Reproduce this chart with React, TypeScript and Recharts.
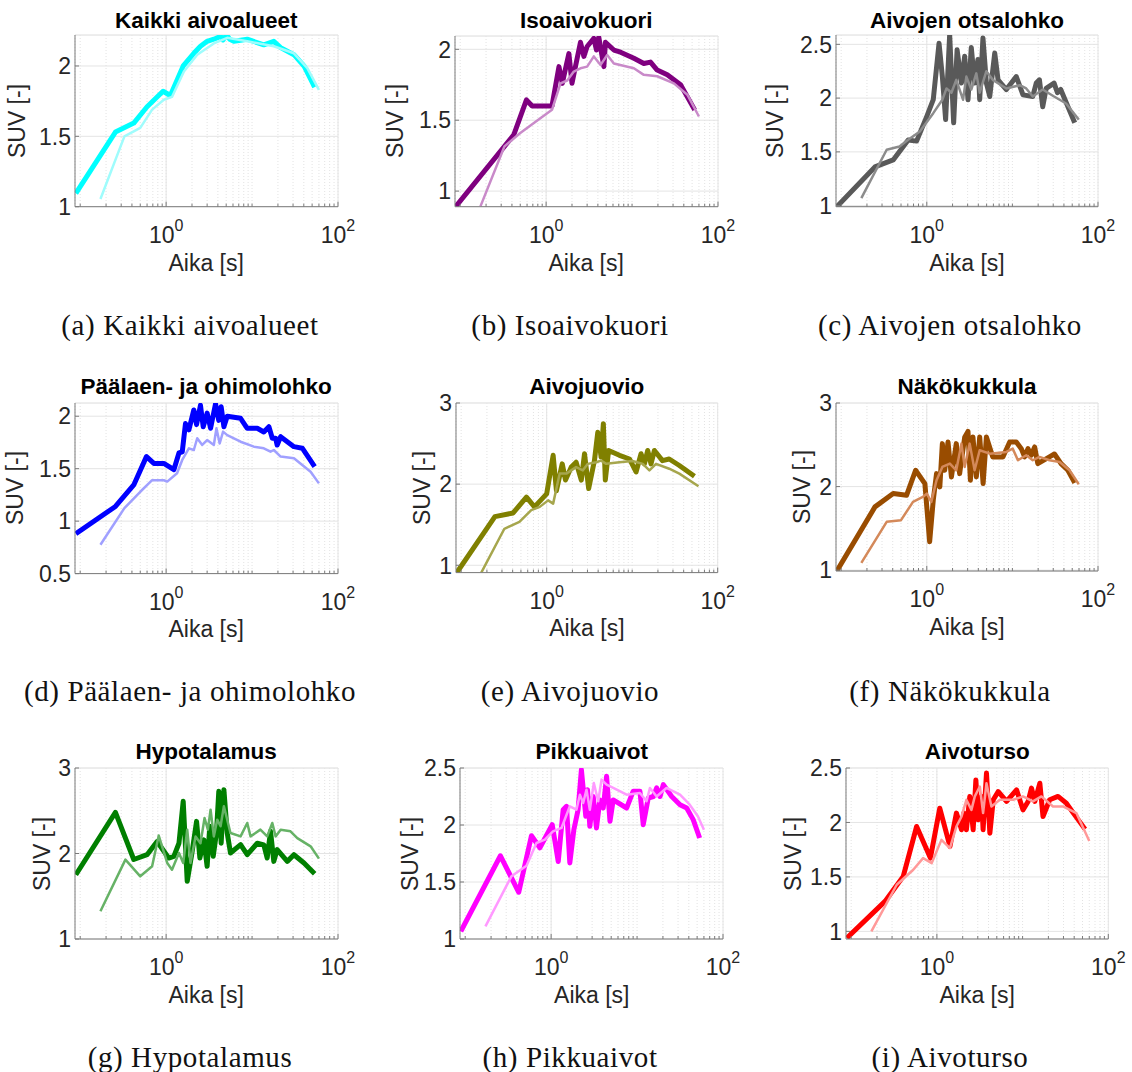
import { LineChart, Line, XAxis, YAxis, CartesianGrid, ReferenceLine } from 'recharts';

// time axis (s), log scale
const xDomain = [0.087, 100];
const xTicks = [
  0.1, 0.2, 0.3, 0.4, 0.5, 0.6, 0.7, 0.8, 0.9,
  1, 2, 3, 4, 5, 6, 7, 8, 9,
  10, 20, 30, 40, 50, 60, 70, 80, 90, 100,
];

// [time s, SUV] pairs
const kaikkiThick = [[0.089, 1.095], [0.257, 1.53], [0.42, 1.594], [0.6, 1.71], [0.92, 1.82], [1.12, 1.79], [1.58, 2.0], [2.1, 2.09], [2.51, 2.14], [3.0, 2.175], [3.59, 2.19], [4.3, 2.21], [4.6, 2.185], [5.05, 2.22], [5.5, 2.19], [6.14, 2.175], [8.79, 2.19], [13.7, 2.15], [17.9, 2.175], [21.5, 2.13], [30.7, 2.08], [40.2, 2.0], [53.5, 1.85]];
const kaikkiThin = [[0.172, 1.055], [0.327, 1.5], [0.5, 1.56], [0.687, 1.69], [0.94, 1.76], [1.17, 1.78], [1.61, 1.96], [2.3, 2.08], [3.59, 2.16], [5.14, 2.2], [8.79, 2.175], [17.9, 2.14], [30.7, 2.09], [44, 1.985], [60, 1.83]];

const isoThick = [[0.089, 0.892], [0.42, 1.397], [0.59, 1.643], [0.687, 1.6], [0.94, 1.6], [1.17, 1.6], [1.41, 1.878], [1.54, 1.76], [1.84, 1.97], [2.0, 1.76], [2.51, 2.05], [2.75, 1.95], [3.0, 2.02], [3.59, 2.077], [3.85, 1.995], [4.1, 2.085], [4.7, 1.878], [4.9, 2.05], [6.14, 1.995], [7.35, 1.98], [10.5, 1.937], [13.7, 1.9], [16.4, 1.91], [19.6, 1.854], [25.7, 1.82], [36.7, 1.75], [53.5, 1.573]];
const isoThin = [[0.172, 0.892], [0.327, 1.315], [0.5, 1.41], [0.72, 1.48], [1.17, 1.573], [1.47, 1.76], [1.76, 1.78], [2.1, 1.843], [2.51, 1.866], [3.0, 1.878], [3.59, 1.95], [4.3, 1.89], [5.14, 1.96], [6.14, 1.9], [10.5, 1.866], [13.7, 1.82], [19.6, 1.81], [30.7, 1.76], [44, 1.68], [60, 1.526]];

const otsaThick = [[0.089, 0.99], [0.248, 1.36], [0.405, 1.425], [0.606, 1.61], [0.76, 1.6], [1.0, 1.83], [1.19, 1.985], [1.39, 2.51], [1.52, 2.2], [1.66, 1.8], [1.85, 2.59], [2.06, 1.77], [2.26, 2.45], [2.54, 2.14], [2.77, 2.39], [3.03, 1.985], [3.31, 2.47], [3.62, 2.14], [3.96, 2.36], [4.15, 1.985], [4.53, 2.56], [4.97, 2.14], [5.44, 2.015], [6.22, 2.42], [6.8, 2.17], [8.5, 2.08], [11.1, 2.2], [13.3, 2.03], [17.3, 2.015], [19.0, 2.14], [20.7, 2.17], [22.6, 1.92], [24.8, 2.09], [30.7, 2.14], [33.6, 2.05], [36.7, 2.08], [48, 1.86], [53.5, 1.77]];
const otsaThin = [[0.172, 1.07], [0.34, 1.52], [0.48, 1.55], [0.6, 1.61], [0.83, 1.69], [1.19, 1.86], [1.52, 1.985], [1.7, 2.09], [1.94, 2.05], [2.21, 2.17], [2.65, 1.985], [2.9, 2.2], [3.31, 2.08], [3.79, 2.23], [4.15, 2.05], [4.97, 2.25], [5.9, 2.17], [8.5, 2.09], [12.2, 2.12], [14.5, 2.09], [17.3, 2.015], [22.6, 2.08], [30.7, 2.015], [42.4, 1.95], [59.6, 1.8]];

const paalaenThick = [[0.089, 0.88], [0.257, 1.14], [0.42, 1.345], [0.59, 1.615], [0.72, 1.55], [0.94, 1.55], [1.23, 1.49], [1.41, 1.65], [1.54, 1.66], [1.68, 1.93], [1.84, 1.87], [2.1, 2.06], [2.26, 1.92], [2.51, 2.105], [2.7, 1.9], [3.0, 2.03], [3.29, 1.885], [3.76, 2.12], [4.1, 1.96], [4.37, 2.09], [4.7, 1.9], [5.14, 2.0], [7.35, 1.98], [8.79, 1.885], [11.5, 1.885], [13.7, 1.85], [15.7, 1.9], [17.2, 1.79], [18.8, 1.79], [19.6, 1.725], [21.5, 1.805], [30.7, 1.71], [38.4, 1.695], [53.5, 1.52]];
const paalaenThin = [[0.172, 0.775], [0.327, 1.124], [0.5, 1.28], [0.687, 1.39], [0.94, 1.39], [1.03, 1.377], [1.34, 1.456], [1.54, 1.583], [1.84, 1.694], [2.1, 1.678], [2.3, 1.79], [2.63, 1.726], [3.0, 1.773], [3.59, 1.726], [3.85, 1.885], [4.2, 1.74], [4.6, 1.853], [5.14, 1.82], [7.35, 1.757], [10.5, 1.71], [13.7, 1.694], [16.4, 1.662], [17.9, 1.678], [21.5, 1.615], [30.7, 1.6], [48, 1.47], [60, 1.36]];

const juovioThick = [[0.089, 0.91], [0.248, 1.6], [0.405, 1.645], [0.58, 1.84], [0.72, 1.72], [1.0, 1.88], [1.19, 2.355], [1.3, 1.92], [1.52, 2.25], [1.66, 2.05], [1.94, 2.21], [2.21, 2.27], [2.54, 2.05], [2.77, 2.375], [3.1, 1.945], [3.62, 2.29], [3.96, 2.64], [4.33, 2.335], [4.6, 2.745], [4.85, 2.05], [5.3, 2.415], [7.1, 2.355], [9.3, 2.31], [11.1, 2.15], [12.7, 2.375], [13.9, 2.25], [15.2, 2.415], [16.6, 2.25], [18.2, 2.415], [22.6, 2.29], [27.1, 2.31], [35.6, 2.23], [53.5, 2.097]];
const juovioThin = [[0.172, 0.91], [0.32, 1.45], [0.48, 1.535], [0.66, 1.68], [0.83, 1.72], [1.04, 1.8], [1.19, 1.76], [1.42, 2.13], [1.7, 2.13], [2.21, 2.21], [2.65, 2.17], [3.03, 2.25], [3.79, 2.27], [4.33, 2.29], [4.97, 2.25], [7.1, 2.27], [10.1, 2.285], [13.3, 2.25], [15.9, 2.17], [19, 2.25], [27.1, 2.19], [35.6, 2.13], [59.6, 1.975]];

const nakoThick = [[0.089, 0.99], [0.248, 1.757], [0.405, 1.916], [0.58, 1.896], [0.74, 2.195], [0.95, 2.036], [1.08, 1.34], [1.19, 1.837], [1.3, 2.155], [1.42, 1.996], [1.52, 2.514], [1.62, 2.195], [1.77, 2.534], [1.94, 2.116], [2.21, 2.514], [2.42, 2.155], [2.77, 2.59], [3.03, 2.66], [3.23, 2.076], [3.46, 2.594], [3.79, 2.116], [4.15, 2.594], [4.55, 2.036], [4.97, 2.594], [5.9, 2.355], [7.75, 2.355], [9.3, 2.534], [11.1, 2.534], [12.7, 2.454], [13.9, 2.355], [15.2, 2.454], [16.6, 2.375], [18.2, 2.474], [19.8, 2.275], [27.1, 2.355], [31, 2.39], [37, 2.275], [44.5, 2.195], [53.5, 2.044]];
const nakoThin = [[0.172, 1.088], [0.34, 1.578], [0.5, 1.598], [0.69, 1.817], [0.9, 1.876], [1.0, 1.916], [1.13, 1.817], [1.3, 2.076], [1.52, 2.235], [1.86, 2.275], [2.21, 2.195], [2.54, 2.514], [2.77, 2.235], [3.17, 2.514], [3.62, 2.195], [4.15, 2.434], [5.44, 2.394], [8.5, 2.414], [10.1, 2.454], [11.6, 2.315], [14.5, 2.375], [17.3, 2.315], [20.7, 2.355], [27.1, 2.315], [35.6, 2.295], [46.5, 2.195], [59.6, 2.028]];

const hypoThick = [[0.089, 1.752], [0.257, 2.48], [0.42, 1.93], [0.6, 1.986], [0.785, 2.14], [1.07, 1.947], [1.23, 1.967], [1.41, 2.12], [1.58, 2.61], [1.76, 1.675], [2.0, 2.01], [2.26, 2.376], [2.47, 1.947], [2.75, 2.16], [3.0, 1.85], [3.22, 2.318], [3.53, 1.967], [3.85, 2.24], [4.1, 2.727], [4.37, 2.12], [4.7, 2.746], [5.14, 2.24], [5.61, 2.006], [7.35, 2.103], [8.79, 1.986], [11.5, 2.12], [13.7, 2.1], [15, 1.947], [16.4, 2.26], [17.9, 1.908], [19.6, 2.045], [25.7, 1.908], [30.7, 1.986], [40.2, 1.889], [53.5, 1.764]];
const hypoThin = [[0.172, 1.324], [0.336, 1.928], [0.5, 1.733], [0.687, 1.85], [0.82, 2.21], [1.03, 1.889], [1.17, 1.811], [1.41, 2.006], [1.58, 1.889], [1.76, 2.279], [1.92, 1.889], [2.2, 2.2], [2.51, 2.12], [2.8, 2.415], [3.06, 2.279], [3.29, 2.513], [3.59, 2.2], [3.93, 2.396], [4.3, 2.318], [4.7, 2.552], [5.61, 2.24], [7.35, 2.2], [8.79, 2.357], [9.6, 2.2], [12.5, 2.279], [15, 2.2], [17.2, 2.357], [18.8, 2.2], [21.5, 2.279], [28, 2.26], [33.6, 2.18], [48, 2.084], [60, 1.94]];

const pikkuThick = [[0.089, 1.067], [0.257, 1.73], [0.42, 1.41], [0.59, 1.906], [0.74, 1.8], [1.03, 2.003], [1.21, 1.68], [1.38, 2.134], [1.51, 2.164], [1.65, 1.667], [1.84, 1.96], [2.06, 2.134], [2.25, 2.485], [2.53, 2.076], [2.65, 2.31], [2.82, 1.988], [3.09, 2.25], [3.37, 1.974], [3.69, 2.22], [4.04, 2.149], [4.42, 2.427], [4.84, 2.032], [5.28, 2.22], [7.56, 2.149], [9, 2.295], [10.8, 2.295], [11.8, 2.003], [13.5, 2.237], [15.5, 2.25], [16.9, 2.325], [18.5, 2.25], [20.2, 2.354], [25.3, 2.25], [31.6, 2.178], [37.8, 2.149], [45, 2.047], [53.5, 1.886]];
const pikkuThin = [[0.172, 1.111], [0.345, 1.55], [0.517, 1.643], [0.675, 1.842], [0.845, 1.871], [1.05, 1.944], [1.32, 1.974], [1.65, 2.164], [1.97, 2.134], [2.16, 2.266], [2.36, 2.193], [2.58, 2.31], [2.82, 2.134], [3.14, 2.368], [3.53, 2.208], [3.86, 2.398], [4.42, 2.354], [5.28, 2.325], [7.56, 2.266], [10.8, 2.28], [12.9, 2.208], [14.1, 2.325], [16.9, 2.25], [22, 2.325], [31.6, 2.266], [41, 2.178], [51, 2.076], [60, 1.959]];

const tursoThick = [[0.089, 0.939], [0.248, 1.275], [0.405, 1.505], [0.58, 1.963], [0.84, 1.673], [1.08, 2.131], [1.42, 1.78], [1.69, 2.086], [1.94, 1.933], [2.06, 2.086], [2.21, 1.933], [2.42, 2.239], [2.65, 1.933], [2.85, 2.39], [3.03, 2.024], [3.32, 2.239], [3.46, 1.933], [3.79, 2.453], [4.15, 1.902], [4.55, 2.208], [5.2, 2.284], [6.5, 2.193], [8.5, 2.3], [10.1, 2.116], [11.6, 2.193], [12.7, 2.315], [13.9, 2.193], [15.9, 2.36], [17.3, 2.055], [20.7, 2.208], [25.9, 2.239], [32.4, 2.177], [40.5, 2.07], [53.5, 1.939]];
const tursoThin = [[0.172, 1.0], [0.34, 1.428], [0.53, 1.566], [0.69, 1.673], [0.87, 1.627], [1.13, 1.84], [1.42, 1.765], [1.69, 1.963], [1.94, 2.055], [2.21, 2.208], [2.53, 2.116], [2.77, 2.239], [3.17, 2.33], [3.46, 2.086], [3.79, 2.36], [4.33, 2.147], [5.43, 2.208], [7.75, 2.208], [10.1, 2.239], [13.2, 2.193], [16.6, 2.239], [22.6, 2.147], [29.6, 2.147], [42.4, 2.086], [60, 1.83]];

const titles = ['Kaikki aivoalueet', 'Isoaivokuori', 'Aivojen otsalohko', 'Päälaen- ja ohimolohko', 'Aivojuovio', 'Näkökukkula', 'Hypotalamus', 'Pikkuaivot', 'Aivoturso'];
const letters = ['a', 'b', 'c', 'd', 'e', 'f', 'g', 'h', 'i'];
const yDomains = [[1, 2.22], [0.89, 2.094], [0.99, 2.587], [0.5, 2.126], [0.91, 3], [0.99, 3], [1, 3], [1, 2.5], [0.93, 2.5]];
const yTicks = [[1, 1.5, 2], [1, 1.5, 2], [1, 1.5, 2, 2.5], [0.5, 1, 1.5, 2], [1, 2, 3], [1, 2, 3], [1, 2, 3], [1, 1.5, 2, 2.5], [1, 1.5, 2, 2.5]];
const thickSeries = [kaikkiThick, isoThick, otsaThick, paalaenThick, juovioThick, nakoThick, hypoThick, pikkuThick, tursoThick];
const thinSeries = [kaikkiThin, isoThin, otsaThin, paalaenThin, juovioThin, nakoThin, hypoThin, pikkuThin, tursoThin];
const thickColors = ['#00ffff', '#7f007f', '#595959', '#0000ff', '#808000', '#994c00', '#007f00', '#ff00ff', '#ff0000'];
const thinColors = ['#9ffcfc', '#c98ac9', '#8c8c8c', '#a0a0ff', '#a6a64d', '#d4895a', '#66b266', '#ff99ff', '#ff9999'];

// plot-area rectangles on the page: left, top, right, bottom, ylabel offset
const boxes = [
  [74.7, 35, 337.7, 206.7, -58],
  [454.7, 36, 717.7, 206.7, -60],
  [836, 35, 1098, 206.7, -61],
  [74.7, 402.7, 337.7, 573.3, -60],
  [456, 402.7, 717.7, 572.3, -34],
  [836, 402.7, 1098, 570.7, -34],
  [74.7, 768.3, 337.7, 939.3, -33],
  [460.3, 768.3, 723.3, 939.3, -50],
  [846, 768.3, 1108.3, 939.3, -53],
];
const titleY = [20.7, 387, 751.7];
const captionY = [323, 689, 1055];
const captionX = [190, 570, 950];

const sans = '"Liberation Sans", Arial, Helvetica, sans-serif';
const serif = '"Liberation Serif", "Times New Roman", serif';
const axisColor = '#7a7a7a';
const textColor = '#262626';

const ML = 70;
const MR = 24;
const MT = 16;
const MB = 70;

const rows = (pairs: number[][]) => pairs.map(([t, v]) => ({ t, v }));

const XTick = (props: any) => {
  const { x, y, payload } = props;
  const v = payload.value;
  const major = v === 1 || v === 100;
  return (
    <g>
      <line x1={x} x2={x} y1={y} y2={y - (major ? 5 : 3)} stroke={axisColor} strokeWidth={1} />
      {major && (
        <text x={x} y={y + 36} textAnchor="middle" fontFamily={sans} fontSize={23} fill={textColor}>
          10
          <tspan dy={-12} fontSize={16}>{v === 1 ? '0' : '2'}</tspan>
        </text>
      )}
    </g>
  );
};

const YTick = (props: any) => {
  const { x, y, payload } = props;
  return (
    <g>
      <line x1={x} x2={x + 4} y1={y} y2={y} stroke={axisColor} strokeWidth={1} />
      <text x={x - 4} y={y} dy="0.36em" textAnchor="end" fontFamily={sans} fontSize={23} fill={textColor}>
        {payload.value}
      </text>
    </g>
  );
};

function Panel({ i }: { i: number }) {
  const [left, top, right, bottom, yLabelDx] = boxes[i];
  const w = right - left;
  const h = bottom - top;
  const row = Math.floor(i / 3);
  const col = i % 3;
  const cx = (left + right) / 2;
  const cy = (top + bottom) / 2;
  const dom = yDomains[i];

  return (
    <>
      <div style={{ position: 'absolute', left: left - ML, top: top - MT }}>
        <LineChart width={w + ML + MR} height={h + MT + MB} margin={{ top: MT, right: MR, bottom: 0, left: 0 }}>
          <CartesianGrid vertical={false} stroke="#e4e4e4" />
          <CartesianGrid horizontal={false} stroke="#e2e2e2" strokeDasharray="1 2" />
          <ReferenceLine x={1} stroke="#e4e4e4" />
          <ReferenceLine x={100} stroke="#e4e4e4" />
          <ReferenceLine y={dom[1]} stroke="#e8e8e8" />
          <XAxis
            type="number"
            dataKey="t"
            scale="log"
            domain={xDomain}
            allowDataOverflow
            ticks={xTicks}
            interval={0}
            height={MB}
            tickLine={false}
            tickSize={0}
            tickMargin={0}
            tick={<XTick />}
            stroke={axisColor}
          />
          <YAxis
            type="number"
            domain={dom}
            allowDataOverflow
            ticks={yTicks[i]}
            interval={0}
            width={ML}
            tickLine={false}
            tickSize={0}
            tickMargin={0}
            tick={<YTick />}
            stroke={axisColor}
          />
          <Line
            data={rows(thickSeries[i])}
            dataKey="v"
            type="linear"
            stroke={thickColors[i]}
            strokeWidth={5}
            strokeLinejoin="round"
            dot={false}
            isAnimationActive={false}
          />
          <Line
            data={rows(thinSeries[i])}
            dataKey="v"
            type="linear"
            stroke={thinColors[i]}
            strokeWidth={2.5}
            strokeLinejoin="round"
            dot={false}
            isAnimationActive={false}
          />
        </LineChart>
      </div>
      <div
        style={{
          position: 'absolute', left: cx, top: titleY[row], transform: 'translate(-50%, -50%)',
          fontFamily: sans, fontWeight: 'bold', fontSize: 22.5, lineHeight: 1, whiteSpace: 'nowrap', color: '#000',
        }}
      >
        {titles[i]}
      </div>
      <div
        style={{
          position: 'absolute', left: left + yLabelDx, top: cy, transform: 'translate(-50%, -50%) rotate(-90deg)',
          fontFamily: sans, fontSize: 23, lineHeight: 1, whiteSpace: 'nowrap', color: textColor,
        }}
      >
        SUV [-]
      </div>
      <div
        style={{
          position: 'absolute', left: cx, top: bottom + 56, transform: 'translate(-50%, -50%)',
          fontFamily: sans, fontSize: 23, lineHeight: 1, whiteSpace: 'nowrap', color: textColor,
        }}
      >
        Aika [s]
      </div>
      <div
        style={{
          position: 'absolute', left: captionX[col], top: captionY[row] + 1.5, transform: 'translate(-50%, -50%)',
          fontFamily: serif, fontSize: 29, letterSpacing: 0.6, lineHeight: 1, whiteSpace: 'nowrap', color: '#111',
        }}
      >
        ({letters[i]}) {titles[i]}
      </div>
    </>
  );
}

export default function App() {
  return (
    <div style={{ position: 'absolute', left: 0, top: 0, width: 1132, height: 1072, background: '#fff', overflow: 'hidden' }}>
      {titles.map((_, i) => (
        <Panel key={i} i={i} />
      ))}
    </div>
  );
}
